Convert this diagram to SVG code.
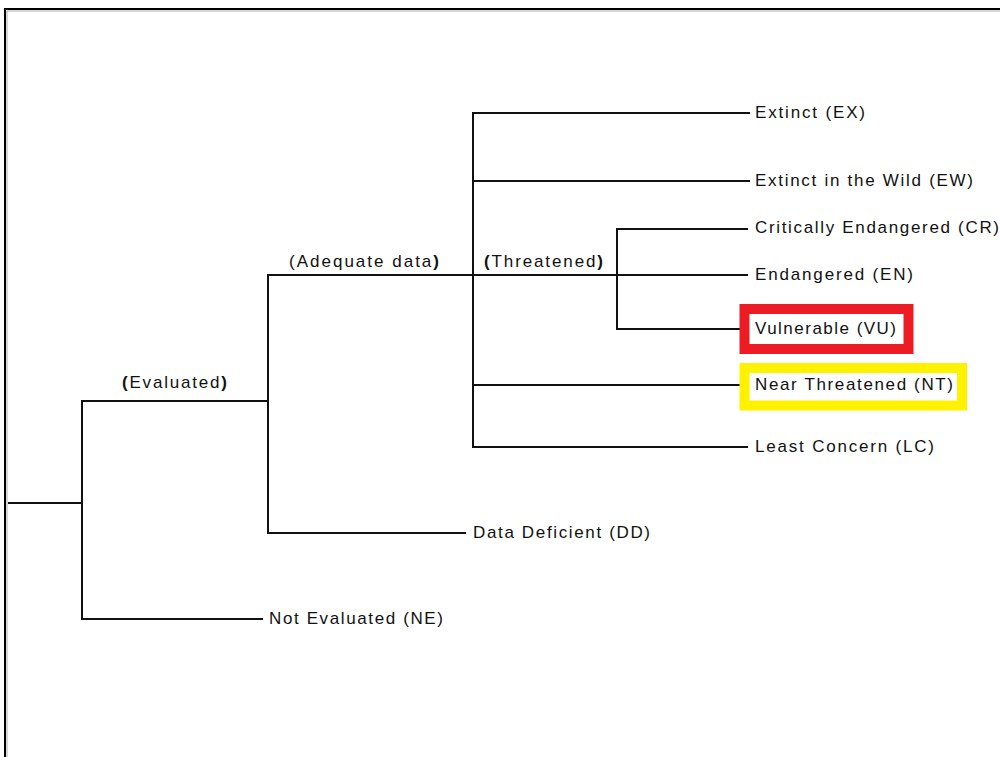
<svg xmlns="http://www.w3.org/2000/svg" width="1000" height="757" viewBox="0 0 1000 757">
<style>
  .t{font-family:"Liberation Sans",Arial,sans-serif;font-size:17px;fill:#111}
  .b{font-weight:bold}
  .c{stroke:#111;stroke-width:2;fill:none}
</style>
<rect x="0" y="0" width="1000" height="757" fill="#fff"/>
<g id="frame">
  <path d="M5 757 V9 H1000" stroke="#000" stroke-width="2" fill="none"/>
  <path d="M7 757 V11 H1000" stroke="#b0b0b0" stroke-width="1" fill="none"/>
</g>
<g id="connectors" class="c">
  <path d="M8 503 H82"/>
  <path d="M82 400 V620"/>
  <path d="M82 401 H268"/>
  <path d="M82 619 H263"/>
  <path d="M268 274 V534"/>
  <path d="M268 533 H466"/>
  <path d="M268 275 H748"/>
  <path d="M473 112 V448"/>
  <path d="M473 113 H750"/>
  <path d="M473 181 H750"/>
  <path d="M473 385 H740"/>
  <path d="M473 447 H748"/>
  <path d="M617 228 V330"/>
  <path d="M617 229 H748"/>
  <path d="M617 329 H740"/>
</g>
<g id="evaluated"><text class="t" x="122" y="388" textLength="105" lengthAdjust="spacing"><tspan class="b">(</tspan>Evaluated<tspan class="b">)</tspan></text></g>
<g id="adequate"><text class="t" x="289" y="267" textLength="150" lengthAdjust="spacing">(Adequate data<tspan class="b">)</tspan></text></g>
<g id="threatened"><text class="t" x="484" y="267" textLength="119" lengthAdjust="spacing"><tspan class="b">(</tspan>Threatened<tspan class="b">)</tspan></text></g>
<g id="ne"><text class="t" x="269" y="624" textLength="174" lengthAdjust="spacing">Not Evaluated (NE)</text></g>
<g id="dd"><text class="t" x="473" y="538" textLength="177" lengthAdjust="spacing">Data Deficient (DD)</text></g>
<g id="ex"><text class="t" x="755" y="118" textLength="110" lengthAdjust="spacing">Extinct (EX)</text></g>
<g id="ew"><text class="t" x="755" y="186" textLength="218" lengthAdjust="spacing">Extinct in the Wild (EW)</text></g>
<g id="cr"><text class="t" x="755" y="233" textLength="244" lengthAdjust="spacing">Critically Endangered (CR)</text></g>
<g id="en"><text class="t" x="755" y="280" textLength="158" lengthAdjust="spacing">Endangered (EN)</text></g>
<g id="vu">
  <rect x="744.5" y="309" width="164" height="40" fill="#fff" stroke="#ed1c24" stroke-width="10"/>
  <text class="t" x="755" y="334" textLength="141" lengthAdjust="spacing">Vulnerable (VU)</text>
</g>
<g id="nt">
  <rect x="744.5" y="368" width="217.5" height="37.5" fill="#fff" stroke="#fff200" stroke-width="10"/>
  <text class="t" x="755" y="390" textLength="198" lengthAdjust="spacing">Near Threatened (NT)</text>
</g>
<g id="lc"><text class="t" x="755" y="452" textLength="179" lengthAdjust="spacing">Least Concern (LC)</text></g>
</svg>
